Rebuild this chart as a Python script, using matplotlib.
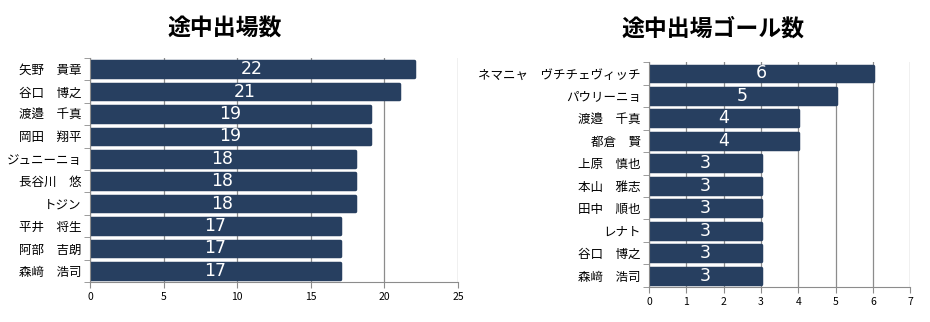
import numpy as np
import matplotlib
matplotlib.use("Agg")
import matplotlib.pyplot as plt

plt.rcParams['font.family'] = ['Noto Sans CJK JP', 'DejaVu Sans']

apps_names = ['矢野　貴章', '谷口　博之', '渡邉　千真', '岡田　翔平', 'ジュニーニョ',
              '長谷川　悠', 'トジン', '平井　将生', '阿部　吉朗', '森﨑　浩司']
apps_vals = [22, 21, 19, 19, 18, 18, 18, 17, 17, 17]

goal_names = ['ネマニャ　ヴチチェヴィッチ', 'パウリーニョ', '渡邉　千真', '都倉　賢', '上原　慎也',
              '本山　雅志', '田中　順也', 'レナト', '谷口　博之', '森﨑　浩司']
goal_vals = [6, 5, 4, 4, 3, 3, 3, 3, 3, 3]

bar_color = '#273f60'
grid_color = '#8c8c8c'


def draw_panel(ax, names, vals, xmax, title, title_x):
    n = len(names)
    y = np.arange(n)
    ax.barh(y, vals, height=0.7, color=bar_color, edgecolor=bar_color,
            lw=2.5, joinstyle='round', zorder=3)
    for yi, v in zip(y, vals):
        ax.text(v / 2, yi, str(v), color='white', fontsize=12.5,
                ha='center', va='center', family='DejaVu Sans', zorder=4)
    ax.set_ylim(n - 0.5, -0.5)
    ax.set_xlim(0, xmax)
    ax.set_xticks(range(0, xmax + 1, 5 if xmax > 10 else 1))
    ax.set_yticks(y)
    ax.set_yticklabels(names, fontsize=9)
    ax.set_yticks(np.arange(n + 1) - 0.5, minor=True)
    ax.tick_params(axis='y', which='major', length=0, pad=6)
    ax.tick_params(axis='y', which='minor', length=4, color=grid_color)
    ax.tick_params(axis='x', length=4, color=grid_color, labelsize=7.5, pad=3)
    ax.grid(axis='x', color=grid_color, lw=0.9, zorder=0)
    for s in ['top', 'right']:
        ax.spines[s].set_visible(False)
    for s in ['left', 'bottom']:
        ax.spines[s].set_color(grid_color)
        ax.spines[s].set_zorder(5)
    fig.text(title_x, 0.91, title, fontsize=16.5, fontweight='bold',
             ha='center', va='center')


fig = plt.figure(figsize=(9.3, 3.22), dpi=100, facecolor='white')
ax1 = fig.add_axes([0.0968, 0.124, 0.3957, 0.696])
ax2 = fig.add_axes([0.698, 0.109, 0.2806, 0.698])

draw_panel(ax1, apps_names, apps_vals, 25, '途中出場数', 0.242)
draw_panel(ax2, goal_names, goal_vals, 7, '途中出場ゴール数', 0.767)

fig.savefig('out.png', dpi=100, facecolor='white')
